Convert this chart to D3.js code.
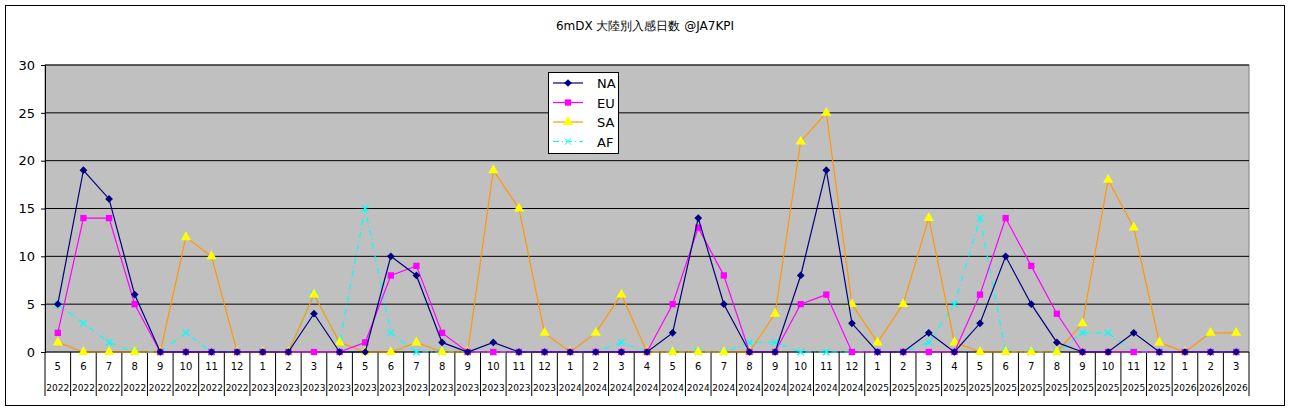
<!DOCTYPE html>
<html><head><meta charset="utf-8">
<script src="https://cdn.jsdelivr.net/npm/d3@7"></script>
<style>body{margin:0;background:#fff}svg{display:block;font-family:"DejaVu Sans",sans-serif}</style>
</head><body>
<svg id="c" width="1290" height="412"></svg>
<script>
const months = [5,6,7,8,9,10,11,12, 1,2,3,4,5,6,7,8,9,10,11,12, 1,2,3,4,5,6,7,8,9,10,11,12, 1,2,3,4,5,6,7,8,9,10,11,12, 1,2,3];
const years = [2022,2022,2022,2022,2022,2022,2022,2022, 2023,2023,2023,2023,2023,2023,2023,2023,2023,2023,2023,2023, 2024,2024,2024,2024,2024,2024,2024,2024,2024,2024,2024,2024, 2025,2025,2025,2025,2025,2025,2025,2025,2025,2025,2025,2025, 2026,2026,2026];
const NA = [5,19,16,6,0,0,0,0, 0,0,4,0,0,10,8,1,0,1,0,0, 0,0,0,0,2,14,5,0,0,8,19,3, 0,0,2,0,3,10,5,1,0,0,2,0, 0,0,0];
const EU = [2,14,14,5,0,0,0,0, 0,0,0,0,1,8,9,2,0,0,0,0, 0,0,0,0,5,13,8,0,0,5,6,0, 0,0,0,0,6,14,9,4,0,0,0,0, 0,0,0];
const SA = [1,0,0,0,0,12,10,0, 0,0,6,1,0,0,1,0,0,19,15,2, 0,2,6,0,0,0,0,0,4,22,25,5, 1,5,14,1,0,0,0,0,3,18,13,1, 0,2,2];
const AF = [5,3,1,0,0,2,0,0, 0,0,6,1,15,2,0,0,0,0,0,0, 0,0,1,0,0,0,0,1,1,0,0,0, 0,0,1,5,14,0,0,0,2,2,0,0, 0,0,0];
const yTicks = [0,5,10,15,20,25,30];

const svg = d3.select('#c');
const L = 45, R = 1249, T = 65, B = 352;
svg.append('rect').attr('x',5.5).attr('y',5.5).attr('width',1279).attr('height',400).attr('fill','#fff').attr('stroke','#000');
svg.append('text').attr('x',645).attr('y',30).attr('text-anchor','middle').attr('font-size',12).text('6mDX 大陸別入感日数 @JA7KPI');

const x = d3.scaleBand().domain(d3.range(months.length)).range([L,R]);
const cx = i => x(i) + x.bandwidth()/2;
const y = d3.scaleLinear().domain([0,30]).range([B,T]);

svg.append('rect').attr('x',L).attr('y',T).attr('width',R-L).attr('height',B-T).attr('fill','#c0c0c0').attr('stroke','#808080');
svg.append('g').selectAll('line').data(yTicks.slice(1)).join('line')
  .attr('x1',L).attr('x2',R).attr('y1',d=>y(d)).attr('y2',d=>y(d)).attr('stroke','#000');
svg.append('g').attr('transform',`translate(${L},0)`)
  .call(d3.axisLeft(y).tickValues(yTicks).tickSize(4).tickPadding(6))
  .call(g=>g.selectAll('text').attr('font-size',13).attr('font-family','"DejaVu Sans",sans-serif'))
  .call(g=>g.select('.domain').attr('stroke','#000'));

// category labels
const xa = svg.append('g');
xa.append('line').attr('x1',L).attr('x2',R).attr('y1',B).attr('y2',B).attr('stroke','#000');
xa.selectAll('.sep').data(d3.range(months.length+1)).join('line')
  .attr('x1',i=>i<months.length?x(i):R).attr('x2',i=>i<months.length?x(i):R)
  .attr('y1',B).attr('y2',396).attr('stroke','#000');
xa.selectAll('.m').data(months).join('text').attr('x',(d,i)=>cx(i)).attr('y',370)
  .attr('text-anchor','middle').attr('font-size',10).text(d=>d);
xa.selectAll('.yr').data(years).join('text').attr('x',(d,i)=>cx(i)).attr('y',391)
  .attr('text-anchor','middle').attr('font-size',9).attr('textLength',23).attr('lengthAdjust','spacingAndGlyphs').text(d=>d);

const series = [
  {name:'NA', data:NA, stroke:'#000080', fill:'#000080', sym:d3.symbolSquare, size:30, rot:45},
  {name:'EU', data:EU, stroke:'#ff00ff', fill:'#ff00ff', sym:d3.symbolSquare, size:40, rot:0},
  {name:'SA', data:SA, stroke:'#ff9900', fill:'#ffff00', sym:d3.symbolTriangle, size:45, rot:0},
  {name:'AF', data:AF, stroke:'#00ffff', fill:'none', sym:d3.symbolX, size:30, rot:0, dash:'6,3,1,3'}
];
const line = d3.line().x((d,i)=>cx(i)).y(d=>y(d));
[3,2,1,0].forEach(k=>{
  const s = series[k];
  const g = svg.append('g');
  g.append('path').attr('d',line(s.data)).attr('fill','none').attr('stroke',s.stroke).attr('stroke-width',1.2).attr('stroke-dasharray',s.dash||null);
  g.selectAll('path.p').data(s.data).join('path').attr('class','p')
    .attr('transform',(d,i)=>`translate(${cx(i)},${y(d)}) rotate(${s.rot})`)
    .attr('d',d3.symbol(s.sym,s.size)).attr('fill',s.name==='AF'?'none':s.fill)
    .attr('stroke',s.name==='AF'?'#00ffff':'none').attr('stroke-width',1.3);
});

// legend
const lg = svg.append('g').attr('transform','translate(548,72)');
lg.append('rect').attr('x',0.5).attr('y',0.5).attr('width',70).attr('height',81).attr('fill','#fff').attr('stroke','#000');
series.forEach((s,i)=>{
  const yy = 11 + i*19.5;
  lg.append('line').attr('x1',5).attr('x2',35).attr('y1',yy).attr('y2',yy).attr('stroke',s.stroke).attr('stroke-width',1.2).attr('stroke-dasharray',s.dash||null);
  lg.append('path').attr('transform',`translate(20,${yy}) rotate(${s.rot})`).attr('d',d3.symbol(s.sym,s.size))
    .attr('fill',s.name==='AF'?'none':s.fill).attr('stroke',s.name==='AF'?'#00ffff':'none');
  lg.append('text').attr('x',49).attr('y',yy+5).attr('font-size',13).text(s.name);
});
</script>
</body></html>
